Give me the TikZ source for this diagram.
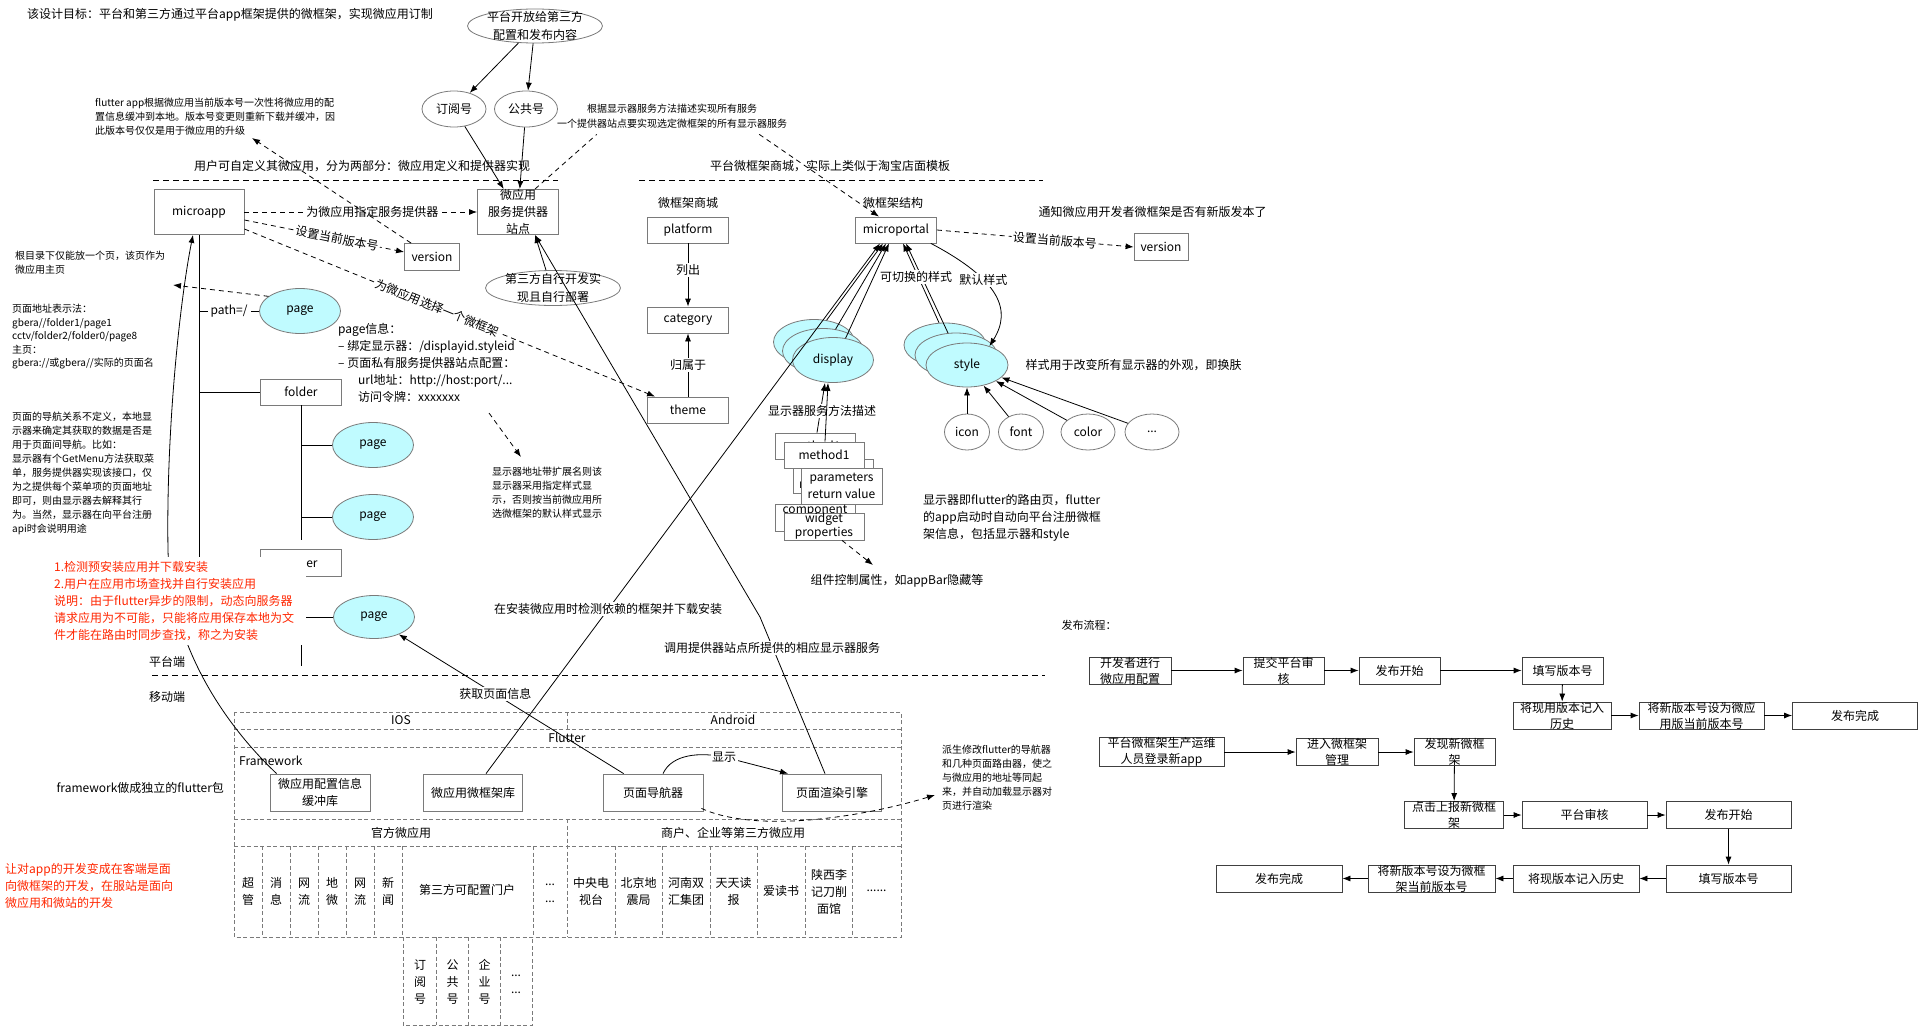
\documentclass[tikz,border=0pt]{standalone}
\usepackage{fontspec}
\setmainfont{Noto Sans CJK SC}
\usetikzlibrary{arrows.meta,shapes.geometric,calc}

\definecolor{pagecyan}{HTML}{C0FBFF}
\definecolor{notered}{RGB}{255,38,0}
\definecolor{edgegray}{HTML}{7A7A7A}

\tikzset{
  f12/.style={font=\fontsize{12}{17}\selectfont},
  f18/.style={font=\fontsize{12}{18}\selectfont},
  f10/.style={font=\fontsize{10}{14}\selectfont},
  box/.style={draw=edgegray, line width=0.8pt, fill=white, inner sep=0pt, align=center,
              minimum width=81, minimum height=26, f12},
  fbox/.style={draw=black!75, line width=0.8pt, fill=white, inner sep=0pt, align=center,
              minimum height=27, font=\fontsize{12}{16}\selectfont},
  oval/.style={ellipse, draw=edgegray, line width=0.8pt, fill=white, inner sep=0pt, f12},
  pageov/.style={oval, fill=pagecyan, minimum width=81, minimum height=45},
  note/.style={inner sep=0pt, align=left, anchor=north west, f10},
  lbl/.style={fill=white, inner sep=1.5pt, f12},
  conn/.style={draw=black, line width=0.8pt},
  arr/.style={conn, -{Latex[length=8pt,width=6pt]}},
  dashconn/.style={conn, dash pattern=on 5pt off 4pt},
  dasharr/.style={dashconn, -{Latex[length=8pt,width=6pt]}},
  divider/.style={draw=black, line width=0.8pt, dash pattern=on 6pt off 4pt},
  cell/.style={draw=edgegray, line width=0.7pt, dash pattern=on 4pt off 2.5pt},
}

\begin{document}
\begin{tikzpicture}[x=1pt,y=-1pt]
\useasboundingbox (0,0) rectangle (1918,1027);

% ---------- headline and top ovals
\node[note, f12] (goal) at (27,8) {该设计目标：平台和第三方通过平台app框架提供的微框架，实现微应用订制};
\node[oval, minimum width=135, minimum height=34,
      label={[f18, align=center]center:{平台开放给第三方\\配置和发布内容}}] (open) at (535,26) {};
\node[oval, minimum width=64, minimum height=36] (sub) at (454,109) {订阅号};
\node[oval, minimum width=63, minimum height=36] (pub) at (526,109) {公共号};
\draw[arr] (open) -- (sub);
\draw[arr] (open) -- (pub);

\node[note] (fnote) at (95,98) {flutter app根据微应用当前版本号一次性将微应用的配\\置信息缓冲到本地。版本号变更则重新下载并缓冲，因\\此版本号仅仅是用于微应用的升级};
\node[align=center, inner sep=0pt, font=\fontsize{10}{15}\selectfont] (svcnote) at (672,116)
  {根据显示器服务方法描述实现所有服务\\一个提供器站点要实现选定微框架的所有显示器服务};

\node[f12] (h1) at (362,166) {用户可自定义其微应用，分为两部分：微应用定义和提供器实现};
\node[f12] (h2) at (830,166) {平台微框架商城，实际上类似于淘宝店面模板};
\draw[divider] (153,180) -- (558,180);
\draw[divider] (639,180) -- (1043,180);

% ---------- micro app definition side
\node[box, minimum width=90, minimum height=45] (microapp) at (199,212) {microapp};
\node[box, minimum height=45] (site) at (518,212) {微应用\\服务提供器\\站点};
\node[box, minimum width=55, minimum height=27] (ver1) at (432,257) {version};
\node[oval, minimum width=135, minimum height=35,
      label={[f18, align=center]center:{第三方自行开发实\\现且自行部署}}] (self) at (553,288) {};
\draw[arr] (sub) -- (site);
\draw[arr] (pub) -- (site);
\draw[arr] ($(self.north)+(-7,0)$) -- ($(site.south)+(17,0)$);

% ---------- micro frame store
\node[f12] (mallt) at (688,203) {微框架商城};
\node[box] (platform) at (688,230) {platform};
\node[box] (category) at (688,320) {category};
\node[box] (theme) at (688,410) {theme};
\draw[arr] (platform) -- node[lbl, pos=0.42]{列出} (category);
\draw[arr] (theme) -- node[lbl]{归属于} (category);

\draw[dasharr] (microapp.east) -- node[lbl, pos=0.55]{为微应用指定服务提供器} (site.west);
\draw[dasharr] ($(microapp.east)+(0,8)$) -- node[lbl, sloped, pos=0.58]{设置当前版本号} ($(ver1.west)+(0,-5)$);
\draw[dasharr] ($(microapp.east)+(0,17)$) -- node[lbl, sloped, pos=0.47]{为微应用选择一个微框架} ($(theme.north west)+(8,0)$);
\coordinate (fnote-end) at (252,138);
\draw[dasharr] ($(ver1.north west)+(7,0)$) -- (fnote-end);

% ---------- micro frame structure
\node[f12] (structt) at (893,203) {微框架结构};
\node[box] (microportal) at (896,230) {microportal};
\node[box, minimum width=54, minimum height=27] (ver2) at (1161,247) {version};
\node[f12, anchor=west] (notify) at (1035,212) {通知微应用开发者微框架是否有新版发本了};
\draw[dasharr] (microportal.east) -- node[lbl, sloped, pos=0.6]{设置当前版本号} (ver2.west);
\draw[dashconn] ($(site.north)+(17,0)$) -- ($(svcnote.south west)+(40,6)$);
\draw[dasharr] ($(svcnote.south east)+(-28,6)$) -- ($(microportal.north)+(-17,0)$);

% display stack
\node[pageov] (disp3) at (814,342) {};
\node[pageov] (disp2) at (823,351) {};
\node[pageov] (disp1) at (833,360) {display};
% style stack
\node[pageov, minimum width=82, minimum height=44] (sty3) at (945,345) {};
\node[pageov, minimum width=82, minimum height=44] (sty2) at (956,355) {};
\node[pageov, minimum width=82, minimum height=44] (sty1) at (967,365) {style};
\node[f12, anchor=west] (stynote) at (1022,365) {样式用于改变所有显示器的外观，即换肤};

\draw[arr] (disp3.60) -- ($(microportal.south)+(-13,0)$);
\draw[arr] (disp2.60) -- ($(microportal.south)+(-10,0)$);
\draw[arr] (disp1.60) -- ($(microportal.south)+(-7,0)$);
\draw[arr] (sty3.105) -- ($(microportal.south)+(7,0)$);
\draw[arr] (sty2.110) -- ($(microportal.south)+(10,0)$);
\node[lbl] (switchlbl) at (916,277) {可切换的样式};
\draw[arr] ($(microportal.south east)+(-6,0)$) .. controls (1000,280) and (1012,310) .. node[lbl, pos=0.35]{默认样式} (sty1.40);

% skin parts
\node[oval, minimum width=45, minimum height=36] (icon) at (967,432) {icon};
\node[oval, minimum width=45, minimum height=36] (fontov) at (1021,432) {font};
\node[oval, minimum width=54, minimum height=36] (colorov) at (1088,432) {color};
\node[oval, minimum width=54, minimum height=36] (moreov) at (1152,432) {...};
\draw[arr] (icon) -- (sty1);
\draw[arr] (fontov) -- (sty1);
\draw[arr] (colorov) -- (sty1);
\draw[arr] (moreov) -- (sty1);

% method description stacks
\node[box, minimum width=80] (m1b) at (815,446) {method1};
\node[box, minimum width=80, minimum height=34] (prb) at (833,476) {parameters\\return value};
\node[box, minimum width=80] (m1) at (824,455) {method1};
\node[box, minimum width=81, minimum height=36] (pr) at (841.5,486) {parameters\\return value};
\node[box, minimum width=80, minimum height=27] (cwb) at (815,517.5) {};
\node[f12, inner sep=0pt] (cwbt) at (815,510.5) {component};
\node[box, minimum width=80, minimum height=27, font=\fontsize{12}{14}\selectfont] (cw) at (824,526.5) {widget\\properties};

\draw[arr] ($(m1b.north)+(2,0)$) -- ($(disp1.south)+(-8,0)$);
\node[f12, fill=white, inner sep=1pt] (methlbl) at (822,411) {显示器服务方法描述};
\draw[arr] ($(m1.north)+(1,0)$) -- ($(disp1.south)+(-5,0)$);
\coordinate (wnote-tip) at (873,565);
\draw[dasharr] ($(cw.south)+(18,0)$) -- (wnote-tip);
\node[f12, anchor=west] (wnote) at (807,581) {组件控制属性，如appBar隐藏等};
\node[note, f12] (dispnote) at (923,494) {显示器即flutter的路由页，flutter\\的app启动时自动向平台注册微框\\架信息，包括显示器和style};

% ---------- page tree
\node[note, font=\fontsize{10}{13.5}\selectfont] (rootnote) at (15,251) {根目录下仅能放一个页，该页作为\\微应用主页};
\node[note, font=\fontsize{10}{13.5}\selectfont] (addrnote) at (12,304) {页面地址表示法：\\gbera//folder1/page1\\cctv/folder2/folder0/page8\\主页：\\gbera://或gbera//实际的页面名};
\node[note] (navrule) at (12,412) {页面的导航关系不定义，本地显\\示器来确定其获取的数据是否是\\用于页面间导航。比如：\\显示器有个GetMenu方法获取菜\\单，服务提供器实现该接口，仅\\为之提供每个菜单项的页面地址\\即可，则由显示器去解释其行\\为。当然，显示器在向平台注册\\api时会说明用途};

\node[pageov] (page0) at (300,311) {page};
\node[box] (folder1) at (301,392) {folder};
\node[pageov] (page1) at (373,445) {page};
\node[pageov] (page2) at (373,517) {page};
\node[box, minimum height=27] (folder2) at (301,563) {folder};
\node[pageov, minimum height=43] (page3) at (374,617) {page};

\draw[conn] (microapp.south) -- (microapp.south |- folder2.west) -- (folder2.west);
\draw[conn] (microapp.south |- page0.west) -- node[fill=white, inner sep=3pt, f12]{path=/} (page0.west);
\draw[conn] (microapp.south |- folder1.west) -- (folder1.west);
\draw[conn] (folder1.south) -- ($(folder1.south |- page2.west)+(0,23)$);
\draw[conn] (folder1.south |- page1.west) -- (page1.west);
\draw[conn] (folder1.south |- page2.west) -- (page2.west);
\draw[conn] (folder2.south) -- ($(folder2.south |- page3.west)+(0,49)$);
\draw[conn] (folder2.south |- page3.west) -- (page3.west);
\coordinate (rootnote-tip) at (173,285);
\draw[dasharr] (page0.155) -- (rootnote-tip);

\node[note, f12] (pinfo) at (338,323) {page信息：\\– 绑定显示器：/displayid.styleid\\– 页面私有服务提供器站点配置：\\\hspace*{20pt}url地址：http://host:port/...\\\hspace*{20pt}访问令牌：xxxxxxx};
\coordinate (pinfo-out) at (489,413);
\coordinate (dnote-in) at (521,457);
\draw[dasharr] (pinfo-out) -- (dnote-in);
\node[note] (dnote) at (492,467) {显示器地址带扩展名则该\\显示器采用指定样式显\\示，否则按当前微应用所\\选微框架的默认样式显示};

% ---------- mobile side
\draw[divider] (152,675) -- (1045,675);
\node[f12] (srvside) at (167,662) {平台端};
\node[f12] (mobside) at (167,697) {移动端};

\draw[cell] (234,712) rectangle (901,937);
\foreach \yy in {729,747,819,846} \draw[cell] (234,\yy) -- (901,\yy);
\draw[cell] (567,712) -- (567,729);
\draw[cell] (567,819) -- (567,937);
\foreach \xx in {262.4,290,318,346,374,402,533,615,662,710,757.5,805,852.6} \draw[cell] (\xx,846) -- (\xx,937);
\draw[cell] (403,937) -- (403,1025) -- (532,1025) -- (532,937);
\foreach \xx in {436.5,468.7,500} \draw[cell] (\xx,937) -- (\xx,1025);

\node[f12] (ios) at (401,720) {IOS};
\node[f12] (android) at (733,720) {Android};
\node[f12] (flutter) at (567,738) {Flutter};
\node[f12, anchor=west, inner sep=0pt] (fwk) at (239,761) {Framework};
\node[f12] (official) at (401,833) {官方微应用};
\node[f12] (thirdp) at (733,833) {商户、企业等第三方微应用};

\node[box, minimum width=100, minimum height=37] (cache) at (320,792.5) {微应用配置信息\\缓冲库};
\node[box, minimum width=99, minimum height=37] (fwlib) at (473,792.5) {微应用微框架库};
\node[box, minimum width=100, minimum height=37] (nav) at (653,792.5) {页面导航器};
\node[box, minimum width=99, minimum height=37] (render) at (832,792.5) {页面渲染引擎};

\node[f12, align=center] (c1) at (248,891.5) {超\\管};
\node[f12, align=center] (c2) at (276,891.5) {消\\息};
\node[f12, align=center] (c3) at (304,891.5) {网\\流};
\node[f12, align=center] (c4) at (332,891.5) {地\\微};
\node[f12, align=center] (c5) at (360,891.5) {网\\流};
\node[f12, align=center] (c6) at (388,891.5) {新\\闻};
\node[f12] (c7) at (467,890) {第三方可配置门户};
\node[f12, align=center] (c8) at (550,893.5) {...\\...};
\node[f12, align=center] (d1) at (591,891.5) {中央电\\视台};
\node[f12, align=center] (d2) at (638.5,891.5) {北京地\\震局};
\node[f12, align=center] (d3) at (686,891.5) {河南双\\汇集团};
\node[f12, align=center] (d4) at (733.5,891.5) {天天读\\报};
\node[f12] (d5) at (781,891) {爱读书};
\node[f12, align=center] (d6) at (829,892) {陕西李\\记刀削\\面馆};
\node[f12] (d7) at (876.5,891) {......};
\node[f12, align=center] (s1) at (420,982) {订\\阅\\号};
\node[f12, align=center] (s2) at (452.5,982) {公\\共\\号};
\node[f12, align=center] (s3) at (484.5,982) {企\\业\\号};
\node[f12, align=center] (s4) at (516,984.5) {...\\...};

% links between the mobile framework and the platform
\draw[arr] ($(fwlib.north)+(13,0)$) -- node[lbl, pos=0.31]{在安装微应用时检测依赖的框架并下载安装} ($(microportal.south)+(-16,0)$);
\draw[arr] ($(render.north)+(-7,0)$) -- (760,617) -- ($(site.south)+(17,0)$);
\node[lbl] (calllbl) at (772,648) {调用提供器站点所提供的相应显示器服务};
\draw[arr] ($(nav.north west)+(21,0)$) -- node[lbl, pos=0.57]{获取页面信息} (page3.-35);
\draw[arr] ($(nav.north)+(10,0)$) .. controls (672,754) and (700,752) .. (724,757) node[lbl]{显示} -- ($(render.north west)+(6,0)$);
\coordinate (navnote-tip) at (935,795);
\draw[dasharr] ($(nav.south east)+(-2,-3)$) .. controls (760,835) and (870,815) .. (navnote-tip);
\node[note] (navnote) at (942,745) {派生修改flutter的导航器\\和几种页面路由器，使之\\与微应用的地址等同起\\来，并自动加载显示器对\\页进行渲染};

\draw[arr] ($(cache.north west)+(7,0)$) .. controls (220,720) and (170,640) .. (168,550)
           .. controls (166,430) and (180,300) .. ($(microapp.south)+(-6,0)$);

\node[note, f12, text=notered, fill=white, text width=252, inner xsep=0pt, inner ysep=4pt] (rednote) at (54,557)
  {1.检测预安装应用并下载安装\\2.用户在应用市场查找并自行安装应用\\说明：由于flutter异步的限制，动态向服务器\\请求应用为不可能，只能将应用保存本地为文\\件才能在路由时同步查找，称之为安装};

\node[f12, anchor=west] (fwnote) at (53,788) {framework做成独立的flutter包};
\node[note, f12, text=notered] (rednote2) at (5,863) {让对app的开发变成在客端是面\\向微框架的开发，在服站是面向\\微应用和微站的开发};

% ---------- release flow
\node[anchor=west, font=\fontsize{11}{15}\selectfont] (flowtitle) at (1058,625) {发布流程：};
\node[fbox, minimum width=82] (a1) at (1130,670.5) {开发者进行\\微应用配置};
\node[fbox, minimum width=81] (a2) at (1283.5,670.5) {提交平台审\\核};
\node[fbox, minimum width=81] (a3) at (1399.5,670.5) {发布开始};
\node[fbox, minimum width=81] (a4) at (1562.5,670.5) {填写版本号};
\node[fbox, minimum width=98] (a5) at (1562,715.5) {将现用版本记入\\历史};
\node[fbox, minimum width=125] (a6) at (1701.5,715.5) {将新版本号设为微应\\用版当前版本号};
\node[fbox, minimum width=125] (a7) at (1855,715.5) {发布完成};
\draw[arr] (a1) -- (a2);
\draw[arr] (a2) -- (a3);
\draw[arr] (a3) -- (a4);
\draw[arr] (a4) -- (a5);
\draw[arr] (a5) -- (a6);
\draw[arr] (a6) -- (a7);

\node[fbox, minimum width=125] (b1) at (1161.5,752) {平台微框架生产运维\\人员登录新app};
\node[fbox, minimum width=82] (b2) at (1337,752) {进入微框架\\管理};
\node[fbox, minimum width=81] (b3) at (1454.5,752) {发现新微框\\架};
\node[fbox, minimum width=99] (b4) at (1454,815) {点击上报新微框\\架};
\node[fbox, minimum width=125] (b5) at (1584.5,815) {平台审核};
\node[fbox, minimum width=125] (b6) at (1728.5,815) {发布开始};
\node[fbox, minimum width=125] (b7) at (1728.5,878.5) {填写版本号};
\node[fbox, minimum width=126] (b8) at (1576,878.5) {将现版本记入历史};
\node[fbox, minimum width=127] (b9) at (1431.5,878.5) {将新版本号设为微框\\架当前版本号};
\node[fbox, minimum width=126] (b10) at (1279,878.5) {发布完成};
\draw[arr] (b1) -- (b2);
\draw[arr] (b2) -- (b3);
\draw[arr] (b3) -- (b4);
\draw[arr] (b4) -- (b5);
\draw[arr] (b5) -- (b6);
\draw[arr] (b6) -- (b7);
\draw[arr] (b7) -- (b8);
\draw[arr] (b8) -- (b9);
\draw[arr] (b9) -- (b10);
\end{tikzpicture}
\end{document}
